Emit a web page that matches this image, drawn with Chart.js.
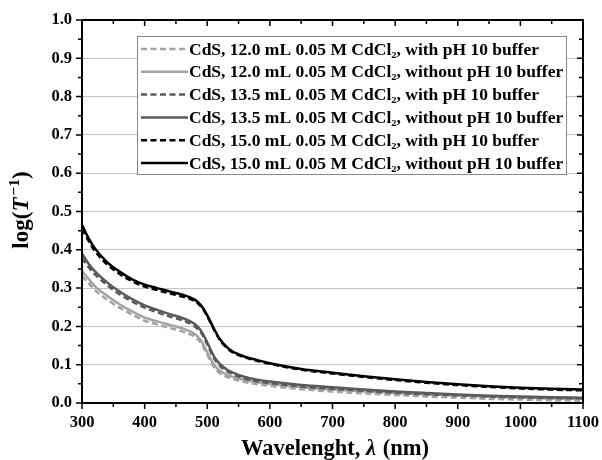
<!DOCTYPE html>
<html>
<head>
<meta charset="utf-8">
<script src="https://cdn.jsdelivr.net/npm/chart.js@4"></script>
<style>
  html, body { margin: 0; padding: 0; background: #fff; }
  #wrap { width: 602px; height: 460px; }
</style>
</head>
<body>
<div id="wrap"><canvas id="absorbance"></canvas></div>
<script>
// wavelength grid (nm) and log(1/T) for each deposition
const wavelengths = [300, 310, 320, 340, 360, 380, 400, 420, 440, 460, 480, 490, 500, 510, 520,
                     530, 540, 560, 580, 600, 650, 700, 750, 800, 850, 900, 950, 1000, 1050, 1100];

const cds120Buffer   = [.332, .314, .296, .270, .249, .231, .215, .205, .196, .187, .173, .157, .126, .096, .078,
                        .069, .063, .055, .049, .045, .036, .030, .025, .021, .017, .014, .011, .009, .007, .006];
const cds120NoBuffer = [.345, .325, .306, .280, .258, .239, .223, .213, .204, .195, .180, .163, .132, .102, .084,
                        .075, .069, .060, .054, .050, .041, .035, .030, .026, .022, .019, .016, .014, .012, .011];
const cds135Buffer   = [.378, .356, .337, .308, .284, .265, .249, .237, .226, .216, .200, .184, .153, .119, .097,
                        .084, .076, .064, .057, .052, .043, .037, .032, .027, .023, .020, .017, .015, .013, .012];
const cds135NoBuffer = [.390, .365, .345, .315, .291, .271, .255, .243, .232, .222, .206, .189, .158, .124, .102,
                        .089, .080, .068, .061, .056, .047, .041, .035, .030, .026, .022, .019, .017, .015, .014];
const cds150Buffer   = [.455, .425, .398, .362, .337, .318, .304, .295, .286, .278, .266, .252, .227, .194, .165,
                        .146, .133, .119, .110, .102, .087, .077, .068, .060, .053, .047, .042, .038, .035, .033];
const cds150NoBuffer = [.465, .432, .405, .368, .343, .323, .309, .300, .291, .283, .270, .255, .229, .196, .167,
                        .148, .135, .121, .112, .104, .089, .079, .070, .062, .055, .049, .044, .040, .037, .035];

const seriesLabels = [
  'CdS, 12.0 mL 0.05 M CdCl\u2082, with pH 10 buffer',
  'CdS, 12.0 mL 0.05 M CdCl\u2082, without pH 10 buffer',
  'CdS, 13.5 mL 0.05 M CdCl\u2082, with pH 10 buffer',
  'CdS, 13.5 mL 0.05 M CdCl\u2082, without pH 10 buffer',
  'CdS, 15.0 mL 0.05 M CdCl\u2082, with pH 10 buffer',
  'CdS, 15.0 mL 0.05 M CdCl\u2082, without pH 10 buffer'
];

const SERIF = "'Liberation Serif', 'Times New Roman', serif";

function toPoints(values) {
  return values.map((v, i) => ({ x: wavelengths[i], y: v }));
}

function line(label, values, color, dashed, order) {
  return {
    label: label,
    data: toPoints(values),
    borderColor: color,
    backgroundColor: color,
    borderWidth: 2.5,
    borderDash: dashed ? [6, 3.5] : [],
    pointRadius: 0,
    cubicInterpolationMode: 'monotone',
    fill: false,
    order: order
  };
}

// draws text pieces with different fonts one after another, centred on x
function drawRuns(ctx, parts, x, y) {
  let total = 0;
  parts.forEach(p => { ctx.font = p.font; total += ctx.measureText(p.text).width + (p.gap || 0); });
  let cx = x - total / 2;
  parts.forEach(p => {
    ctx.font = p.font;
    ctx.fillText(p.text, cx, y + (p.dy || 0));
    cx += ctx.measureText(p.text).width + (p.gap || 0);
  });
}

// frame, inward/outward ticks with minors, legend box and axis titles
const decorations = {
  id: 'decorations',
  afterDatasetsDraw(chart) {
    const ctx = chart.ctx;
    const a = chart.chartArea;
    const xs = chart.scales.x, ys = chart.scales.y;
    ctx.save();
    ctx.strokeStyle = '#000';
    ctx.lineWidth = 2;
    ctx.strokeRect(a.left, a.top, a.right - a.left, a.bottom - a.top);

    ctx.lineWidth = 1.5;
    ctx.beginPath();
    for (let w = 300; w <= 1100; w += 50) {
      const px = xs.getPixelForValue(w);
      const len = (w % 100 === 0) ? 6 : 4;
      ctx.moveTo(px, a.bottom); ctx.lineTo(px, a.bottom + len);
      ctx.moveTo(px, a.top); ctx.lineTo(px, a.top + len);
    }
    for (let k = 0; k <= 20; k++) {
      const py = ys.getPixelForValue(k * 0.05);
      const len = (k % 2 === 0) ? 6 : 4;
      ctx.moveTo(a.left, py); ctx.lineTo(a.left - len, py);
      ctx.moveTo(a.right, py); ctx.lineTo(a.right - len, py);
    }
    ctx.stroke();

    // legend
    const bx = 137, by = 36, bw = 429, bh = 138;
    ctx.fillStyle = '#fff';
    ctx.fillRect(bx, by, bw, bh);
    ctx.strokeStyle = '#8a8a8a';
    ctx.lineWidth = 1;
    ctx.strokeRect(bx + 0.5, by + 0.5, bw, bh);
    ctx.font = 'bold 17.5px ' + SERIF;
    ctx.textBaseline = 'middle';
    ctx.textAlign = 'left';
    chart.data.datasets.forEach((ds, i) => {
      const cy = by + 13 + i * 22.8;
      ctx.strokeStyle = ds.borderColor;
      ctx.lineWidth = ds.borderWidth;
      ctx.setLineDash(ds.borderDash);
      ctx.beginPath();
      ctx.moveTo(bx + 4, cy); ctx.lineTo(bx + 51, cy);
      ctx.stroke();
      ctx.setLineDash([]);
      ctx.fillStyle = '#000';
      ctx.fillText(ds.label, bx + 52, cy + 1);
    });

    // x title
    ctx.fillStyle = '#000';
    ctx.textBaseline = 'alphabetic';
    drawRuns(ctx, [
      { font: 'bold 22.5px ' + SERIF, text: 'Wavelenght, ' },
      { font: 'bold italic 22.5px ' + SERIF, text: '\u03bb', gap: 1 },
      { font: 'bold 22.5px ' + SERIF, text: ' (nm)' }
    ], 335, 455);

    // y title, rotated
    ctx.translate(28, 210);
    ctx.rotate(-Math.PI / 2);
    drawRuns(ctx, [
      { font: 'bold 23px ' + SERIF, text: 'log(' },
      { font: 'bold italic 23px ' + SERIF, text: 'T', gap: 2 },
      { font: 'bold 15.5px ' + SERIF, text: '\u22121', dy: -9 },
      { font: 'bold 23px ' + SERIF, text: ')' }
    ], 0, 0);
    ctx.restore();
  }
};

new Chart(document.getElementById('absorbance'), {
  type: 'line',
  data: {
    datasets: [
      line(seriesLabels[0], cds120Buffer,   '#a3a3a3', true, 6),
      line(seriesLabels[1], cds120NoBuffer, '#a3a3a3', false, 5),
      line(seriesLabels[2], cds135Buffer,   '#5a5a5a', true, 4),
      line(seriesLabels[3], cds135NoBuffer, '#5a5a5a', false, 3),
      line(seriesLabels[4], cds150Buffer,   '#000000', true, 2),
      line(seriesLabels[5], cds150NoBuffer, '#000000', false, 1)
    ]
  },
  plugins: [decorations],
  options: {
    responsive: true,
    maintainAspectRatio: false,
    animation: false,
    layout: { padding: { top: 20, right: 19, left: 0, bottom: 0 } },
    plugins: { legend: { display: false }, tooltip: { enabled: false } },
    scales: {
      x: {
        type: 'linear',
        min: 300,
        max: 1100,
        afterFit: s => { s.height = 57; s.paddingLeft = 0; s.paddingRight = 0; },
        border: { display: false },
        grid: { display: false, drawTicks: false },
        ticks: {
          stepSize: 100,
          padding: 10,
          color: '#000',
          font: { family: SERIF, size: 16.5, weight: 'bold' },
          callback: v => String(v)
        }
      },
      y: {
        min: 0,
        max: 1,
        afterFit: s => { s.width = 82; },
        border: { display: false },
        grid: { color: '#c4c4c4', lineWidth: 1, drawTicks: false },
        ticks: {
          stepSize: 0.1,
          padding: 10,
          color: '#000',
          font: { family: SERIF, size: 16.5, weight: 'bold' },
          callback: v => v.toFixed(1)
        }
      }
    }
  }
});
</script>
</body>
</html>
